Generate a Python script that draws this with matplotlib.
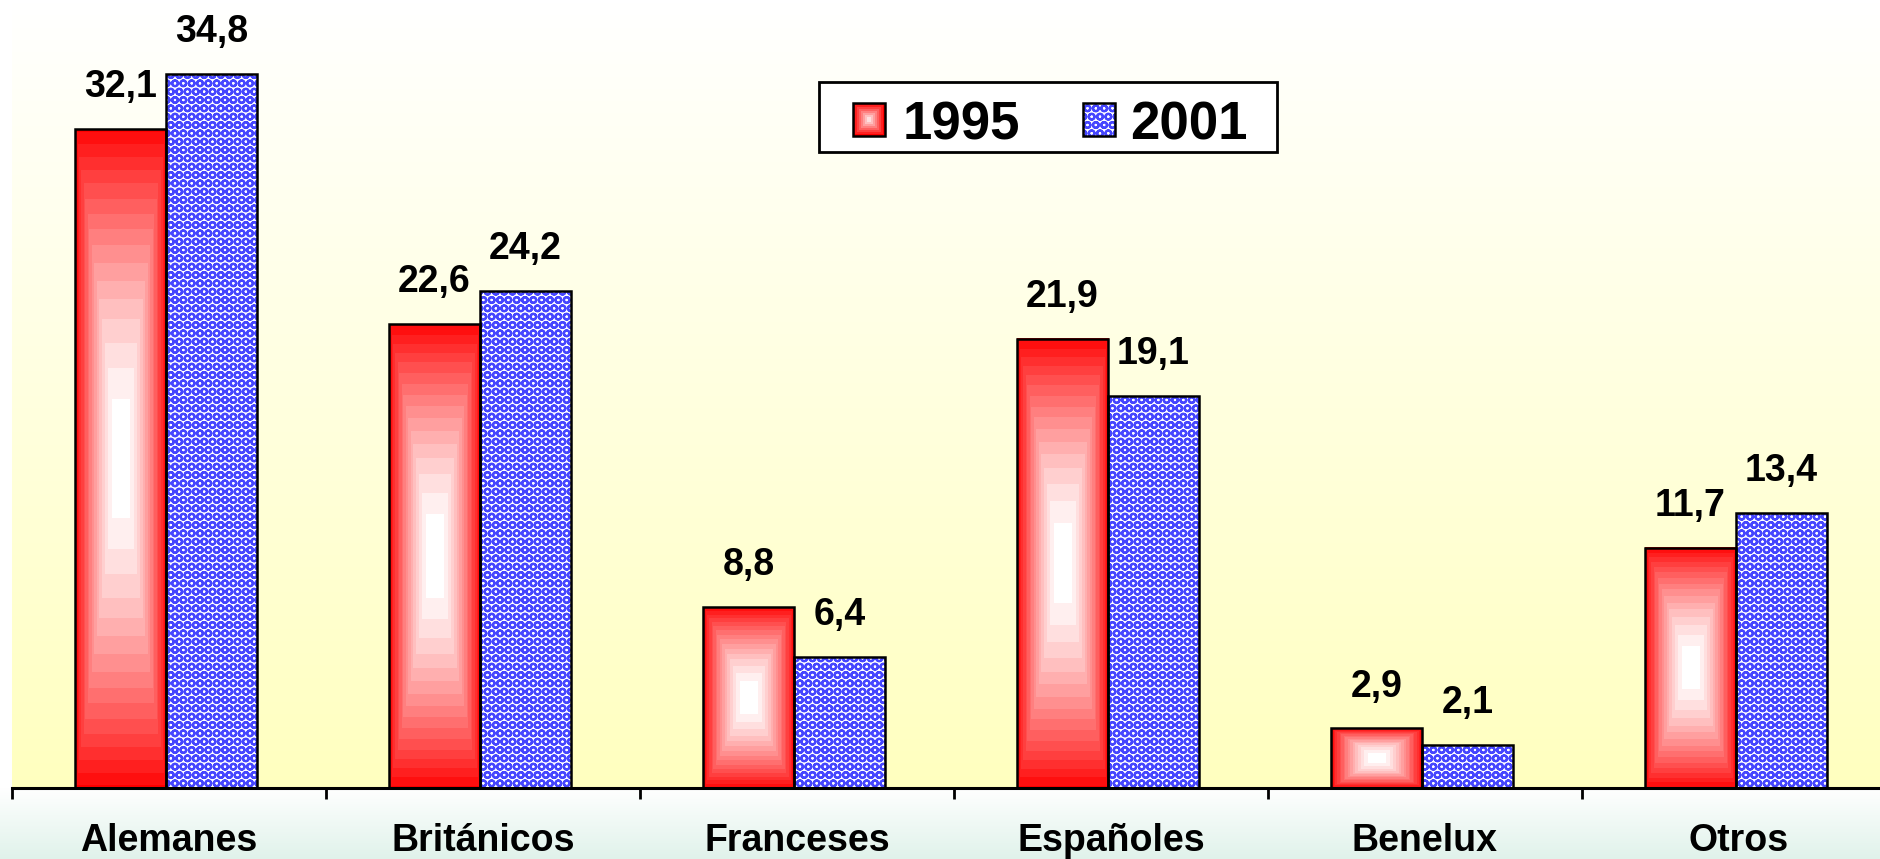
import numpy as np
import matplotlib
matplotlib.use("Agg")
import matplotlib.pyplot as plt
from matplotlib.patches import Rectangle

plt.rcParams['font.family'] = ['Liberation Sans', 'DejaVu Sans']
plt.rcParams['font.weight'] = 'bold'
plt.rcParams['hatch.linewidth'] = 1.6

# data
categories = ["Alemanes", "Británicos", "Franceses", "Españoles", "Benelux", "Otros"]
years = ["1995", "2001"]
vals_1995 = [32.1, 22.6, 8.8, 21.9, 2.9, 11.7]
vals_2001 = [34.8, 24.2, 6.4, 19.1, 2.1, 13.4]

BLUE = "#4646ff"
W = 0.29
FW, FH = 1881, 859


def box_gradient(nx, ny, steps=16):
    # rectangular "box" gradient: white centre, red border
    u = np.abs(np.linspace(-1, 1, nx))
    v = np.abs(np.linspace(-1, 1, ny))
    t = np.maximum(u[None, :], v[:, None]) ** 1.6
    t = np.floor(t * steps) / steps
    img = np.ones((ny, nx, 3))
    img[..., 1] = 1 - t
    img[..., 2] = 1 - t
    return img


fig = plt.figure(figsize=(FW / 100, FH / 100), dpi=100)

ax_h = 788 / FH
ax_b = 1 - ax_h
ax_l = 12 / FW

# bottom band background (white -> pale mint)
bg = fig.add_axes([0, 0, 1, ax_b], zorder=-5)
bg.axis('off')
tb = np.linspace(0, 1, 64)[:, None]
band = np.ones((64, 2, 3))
band[..., 0] = 1 - tb * (1 - 0.88)
band[..., 1] = 1 - tb * (1 - 0.95)
band[..., 2] = 1 - tb * (1 - 0.92)
bg.imshow(band, aspect='auto', extent=(0, 1, 0, 1))
bg.set_xlim(0, 1)
bg.set_ylim(0, 1)

ax = fig.add_axes([ax_l, ax_b, 1 - ax_l, ax_h])
ax.patch.set_visible(False)

# plot area gradient (white top -> light yellow bottom)
ty = np.linspace(0, 1, 128)[:, None]
pg = np.ones((128, 2, 3))
pg[..., 2] = 1 - ty * (1 - 0.75)
ax.imshow(pg, aspect='auto', extent=(0, 1, 0, 1), transform=ax.transAxes,
          zorder=0, interpolation='bilinear')

x = np.arange(len(categories))
x_red = x + 0.2 + W / 2
x_blue = x + 0.2 + W + W / 2

# 1995 bars: box gradient red
for xc, v in zip(x_red, vals_1995):
    ax.imshow(box_gradient(64, 256), extent=(xc - W / 2, xc + W / 2, 0, v),
              aspect='auto', interpolation='nearest', zorder=2, origin='lower')
ax.bar(x_red, vals_1995, W, fill=False, edgecolor='black', lw=1.8, zorder=3)

# 2001 bars: blue circle hatch
ax.bar(x_blue, vals_2001, W, facecolor='white', edgecolor=BLUE, hatch='OO',
       lw=0, zorder=2)
ax.bar(x_blue, vals_2001, W, fill=False, edgecolor='black', lw=1.8, zorder=3)

fmt = lambda v: f"{v:.1f}".replace('.', ',')
for xs, vs in ((x_red, vals_1995), (x_blue, vals_2001)):
    for xc, v in zip(xs, vs):
        ax.annotate(fmt(v), (xc, v), xytext=(0, 23), textcoords='offset points',
                    ha='center', va='baseline', fontsize=27, fontweight='bold')

ax.set_xticks(np.arange(len(categories) + 1))
ax.set_xticklabels([])
ax.set_xticks(x + 0.5, categories, minor=True)
ax.tick_params(axis='x', which='major', direction='out', length=8, width=2)
ax.tick_params(axis='x', which='minor', length=0, pad=25, labelsize=27)
for lab in ax.get_xticklabels(minor=True):
    lab.set_fontweight('bold')
ax.set_yticks([])
ax.set_xlim(0, (FW - 12) / 314)
ax.set_ylim(0, 38.4)
for s in ['top', 'right', 'left']:
    ax.spines[s].set_visible(False)
ax.spines['bottom'].set_linewidth(2.2)
ax.spines['bottom'].set_zorder(4)


# legend, drawn by hand in figure pixels (top-left origin)
def fbox(x0, y0, x1, y1, **kw):
    r = Rectangle((x0 / FW, 1 - y1 / FH), (x1 - x0) / FW, (y1 - y0) / FH,
                  transform=fig.transFigure, **kw)
    fig.add_artist(r)
    return r


fbox(819, 82, 1277, 152, facecolor='white', edgecolor='black', lw=2, zorder=10)
# red box-gradient square
sx0, sy0, sx1, sy1 = 853, 103, 885, 136
n = 8
for i in range(n):
    f = i / n * 0.5
    fbox(sx0 + f * (sx1 - sx0), sy0 + f * (sy1 - sy0),
         sx1 - f * (sx1 - sx0), sy1 - f * (sy1 - sy0),
         facecolor=(1, i / n, i / n), edgecolor='none', zorder=11)
fbox(sx0, sy0, sx1, sy1, fill=False, edgecolor='black', lw=1.8, zorder=12)
# blue hatched square
fbox(1083, 103, 1115, 136, facecolor='white', edgecolor=BLUE, hatch='OO',
     lw=0, zorder=11)
fbox(1083, 103, 1115, 136, fill=False, edgecolor='black', lw=1.8, zorder=12)
for tx, lab in ((903, years[0]), (1130, years[1])):
    fig.text(tx / FW, 1 - 120 / FH, lab, fontsize=38, fontweight='bold',
             ha='left', va='center_baseline', zorder=13)

fig.savefig("out.png", dpi=100)
